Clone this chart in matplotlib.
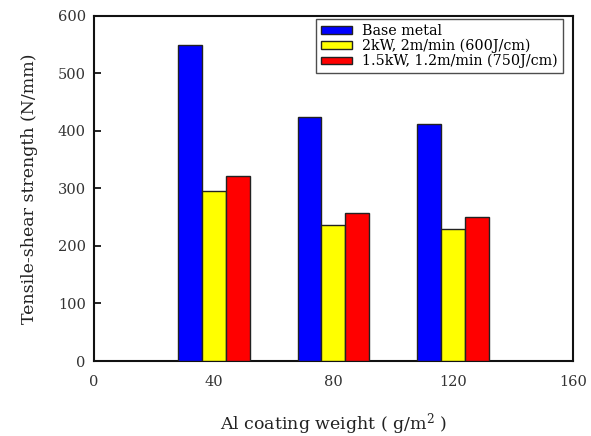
import matplotlib
matplotlib.use("Agg")
import matplotlib.pyplot as plt
import numpy as np

coating = [40, 80, 120]
series_names = ["Base metal", "2kW, 2m/min (600J/cm)", "1.5kW, 1.2m/min (750J/cm)"]
base_metal = [549, 424, 412]
kw2 = [295, 236, 230]
kw15 = [322, 257, 251]
colors = ["#0000ff", "#ffff00", "#ff0000"]

plt.rcParams['font.family'] = ['DejaVu Serif']
plt.rcParams['mathtext.fontset'] = 'dejavuserif'

fig = plt.figure(figsize=(5.91, 4.36), dpi=100)
ax = fig.add_axes([0.159, 0.172, 0.8105, 0.792])

width = 8
x = np.array(coating, dtype=float)
for i, (vals, name, c) in enumerate(zip([base_metal, kw2, kw15], series_names, colors)):
    ax.bar(x + (i - 1) * width, vals, width=width, color=c, edgecolor="#222222",
           linewidth=1.0, label=name, zorder=3)

ax.set_xlim(0, 160)
ax.set_ylim(0, 600)
ax.set_xticks([0, 40, 80, 120, 160])
ax.set_yticks([0, 100, 200, 300, 400, 500, 600])
ax.tick_params(axis='x', length=0, pad=10, labelsize=10.5, labelcolor="#333333")
ax.tick_params(axis='y', direction='in', length=5, width=1.2, pad=6, labelsize=10.5, labelcolor="#333333")
for s in ax.spines.values():
    s.set_linewidth(1.5)
    s.set_color("#111111")

ax.set_ylabel("Tensile-shear strength (N/mm)", fontsize=12.5, color="#222222", labelpad=14)
ax.set_xlabel(r"Al coating weight ( g/m$^2$ )", fontsize=12.5, color="#222222", labelpad=16)

leg = ax.legend(loc="upper right", bbox_to_anchor=(0.979, 0.99), frameon=True, fancybox=False,
                edgecolor="#222222", fontsize=10.3, handlelength=2.17, handleheight=0.42,
                labelspacing=0.05, borderpad=0.35, handletextpad=0.7, borderaxespad=0.0)
leg.get_frame().set_linewidth(1.0)

fig.savefig("out.png", dpi=100)
